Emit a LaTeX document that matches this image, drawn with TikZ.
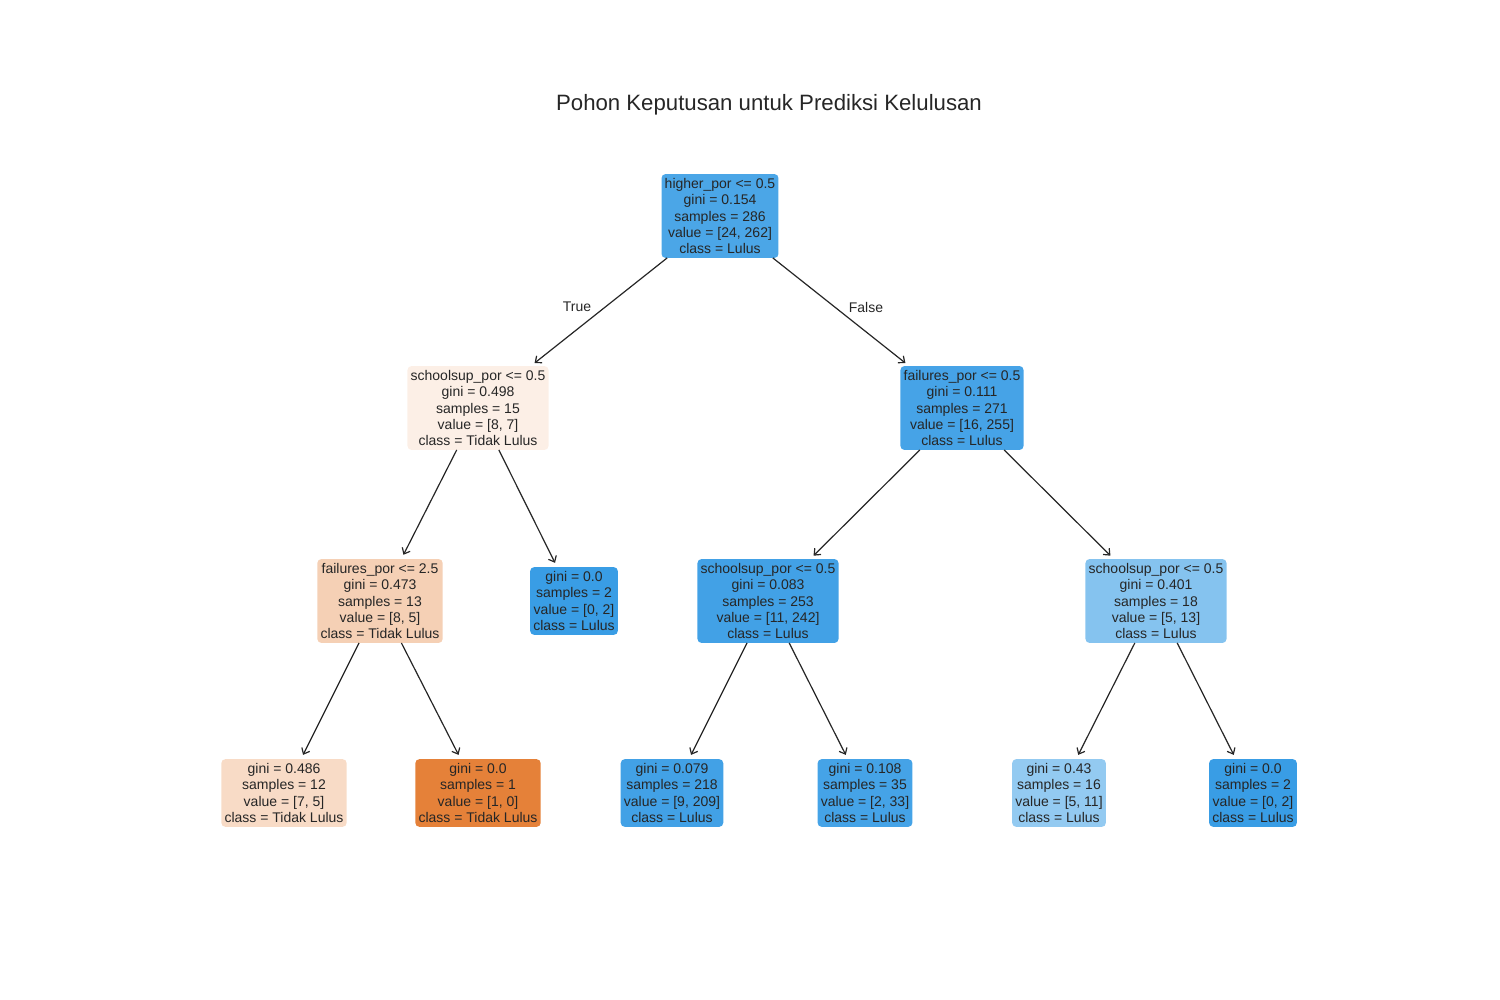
\documentclass[tikz,border=0pt]{standalone}
\usepackage{fontspec}
\setmainfont{Liberation Sans}
\usetikzlibrary{arrows.meta}
\definecolor{txt}{RGB}{38,38,38}
\definecolor{c1}{RGB}{75,166,231}
\definecolor{c2}{RGB}{252,239,230}
\definecolor{c3}{RGB}{70,163,231}
\definecolor{c4}{RGB}{245,208,181}
\definecolor{c5}{RGB}{57,157,229}
\definecolor{c6}{RGB}{66,161,230}
\definecolor{c7}{RGB}{133,195,239}
\definecolor{c8}{RGB}{248,219,198}
\definecolor{c9}{RGB}{229,129,57}
\definecolor{c10}{RGB}{66,161,230}
\definecolor{c11}{RGB}{69,163,231}
\definecolor{c12}{RGB}{147,202,241}
\tikzset{
  tnode/.style={rounded corners=2pt, align=center, text=txt, inner xsep=1.6pt, inner ysep=2.2pt, outer sep=0pt,
    font=\fontsize{7}{8.1}\selectfont},
  edge/.style={draw=txt, line width=0.6pt, shorten >=2.4pt, -{Straight Barb[length=2.6pt,width=4.4pt]}},
  elabel/.style={text=txt, font=\fontsize{7}{8.1}\selectfont},
}
\begin{document}
\begin{tikzpicture}[x=0.5pt,y=-0.5pt]
\useasboundingbox (0,0) rectangle (1500,1000);
\node[text=txt, font=\fontsize{11.1}{13}\selectfont] (title) at (769,105) {Pohon Keputusan untuk Prediksi Kelulusan};

\node[tnode, fill=c1] (n0) at (720,216) {higher\_por <= 0.5\\gini = 0.154\\samples = 286\\value = [24, 262]\\class = Lulus};
\node[tnode, fill=c2] (n1) at (478,408) {schoolsup\_por <= 0.5\\gini = 0.498\\samples = 15\\value = [8, 7]\\class = Tidak Lulus};
\node[tnode, fill=c3] (n2) at (962,408) {failures\_por <= 0.5\\gini = 0.111\\samples = 271\\value = [16, 255]\\class = Lulus};
\node[tnode, fill=c4] (n3) at (380,601) {failures\_por <= 2.5\\gini = 0.473\\samples = 13\\value = [8, 5]\\class = Tidak Lulus};
\node[tnode, fill=c5] (n4) at (574,601) {gini = 0.0\\samples = 2\\value = [0, 2]\\class = Lulus};
\node[tnode, fill=c6] (n5) at (768,601) {schoolsup\_por <= 0.5\\gini = 0.083\\samples = 253\\value = [11, 242]\\class = Lulus};
\node[tnode, fill=c7] (n6) at (1156,601) {schoolsup\_por <= 0.5\\gini = 0.401\\samples = 18\\value = [5, 13]\\class = Lulus};
\node[tnode, fill=c8] (n7) at (284,793) {gini = 0.486\\samples = 12\\value = [7, 5]\\class = Tidak Lulus};
\node[tnode, fill=c9] (n8) at (478,793) {gini = 0.0\\samples = 1\\value = [1, 0]\\class = Tidak Lulus};
\node[tnode, fill=c10] (n9) at (672,793) {gini = 0.079\\samples = 218\\value = [9, 209]\\class = Lulus};
\node[tnode, fill=c11] (n10) at (865,793) {gini = 0.108\\samples = 35\\value = [2, 33]\\class = Lulus};
\node[tnode, fill=c12] (n11) at (1059,793) {gini = 0.43\\samples = 16\\value = [5, 11]\\class = Lulus};
\node[tnode, fill=c5] (n12) at (1253,793) {gini = 0.0\\samples = 2\\value = [0, 2]\\class = Lulus};

\draw[edge] (n0) -- (n1);
\draw[edge] (n0) -- (n2);
\draw[edge] (n1) -- (n3);
\draw[edge] (n1) -- (n4);
\draw[edge] (n2) -- (n5);
\draw[edge] (n2) -- (n6);
\draw[edge] (n3) -- (n7);
\draw[edge] (n3) -- (n8);
\draw[edge] (n5) -- (n9);
\draw[edge] (n5) -- (n10);
\draw[edge] (n6) -- (n11);
\draw[edge] (n6) -- (n12);

\node[elabel] (ltrue) at (577,307) {True};
\node[elabel] (lfalse) at (866,307) {False};
\end{tikzpicture}
\end{document}
